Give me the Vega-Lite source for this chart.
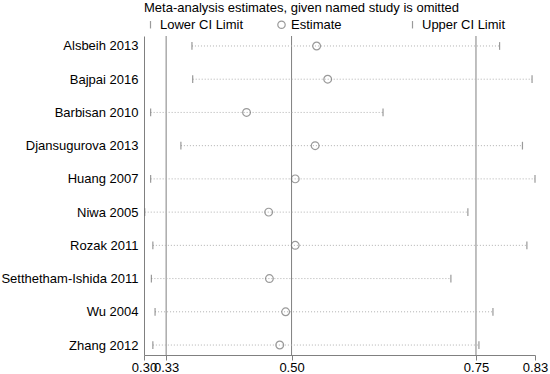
{
  "$schema": "https://vega.github.io/schema/vega-lite/v6.json",
  "width": 391,
  "height": 319,
  "padding": {"left": 0, "top": 2, "right": 10, "bottom": 0},
  "config": {
    "font": "Liberation Sans",
    "view": {"stroke": null},
    "axis": {"grid": false}
  },
  "data": {
    "values": [
      {"study": "Alsbeih 2013", "Lower CI Limit": 0.365, "Estimate": 0.534, "Upper CI Limit": 0.782},
      {"study": "Bajpai 2016", "Lower CI Limit": 0.366, "Estimate": 0.549, "Upper CI Limit": 0.826},
      {"study": "Barbisan 2010", "Lower CI Limit": 0.309, "Estimate": 0.439, "Upper CI Limit": 0.624},
      {"study": "Djansugurova 2013", "Lower CI Limit": 0.350, "Estimate": 0.532, "Upper CI Limit": 0.813},
      {"study": "Huang 2007", "Lower CI Limit": 0.309, "Estimate": 0.505, "Upper CI Limit": 0.830},
      {"study": "Niwa 2005", "Lower CI Limit": 0.301, "Estimate": 0.469, "Upper CI Limit": 0.739},
      {"study": "Rozak 2011", "Lower CI Limit": 0.312, "Estimate": 0.505, "Upper CI Limit": 0.819},
      {"study": "Setthetham-Ishida 2011", "Lower CI Limit": 0.310, "Estimate": 0.470, "Upper CI Limit": 0.716},
      {"study": "Wu 2004", "Lower CI Limit": 0.315, "Estimate": 0.492, "Upper CI Limit": 0.773},
      {"study": "Zhang 2012", "Lower CI Limit": 0.312, "Estimate": 0.484, "Upper CI Limit": 0.754}
    ]
  },
  "layer": [
    {
      "data": {"values": [{"v": 0.33}, {"v": 0.5}, {"v": 0.75}]},
      "mark": {"type": "rule", "color": "#808080", "strokeWidth": 1},
      "encoding": {
        "x": {"field": "v", "type": "quantitative", "scale": {"domain": [0.3, 0.83], "nice": false, "zero": false}}
      }
    },
    {
      "mark": {"type": "rule", "color": "#b0b0b0", "strokeWidth": 1, "strokeDash": [1, 2]},
      "encoding": {
        "y": {"field": "study", "type": "nominal", "sort": null, "scale": {"type": "point", "padding": 0.3},
              "axis": {"title": null, "ticks": false, "domain": true, "domainColor": "#808080", "labelPadding": 6, "labelFontSize": 13, "labelColor": "#000000"}},
        "x": {"field": "Lower CI Limit", "type": "quantitative", "scale": {"domain": [0.3, 0.83], "nice": false, "zero": false},
              "axis": {"title": null, "values": [0.3, 0.33, 0.5, 0.75, 0.83], "format": ".2f", "domainColor": "#808080", "tickColor": "#808080", "tickSize": 5, "labelPadding": 1, "labelFontSize": 13, "labelColor": "#000000", "labelOverlap": false, "labelFlush": false}},
        "x2": {"field": "Upper CI Limit"}
      }
    },
    {
      "transform": [{"fold": ["Lower CI Limit", "Estimate", "Upper CI Limit"], "as": ["key", "value"]}],
      "mark": {"type": "point", "filled": false, "color": "#707070", "strokeWidth": 1.2, "size": 60},
      "encoding": {
        "y": {"field": "study", "type": "nominal", "sort": null},
        "x": {"field": "value", "type": "quantitative", "scale": {"domain": [0.3, 0.83], "nice": false, "zero": false}},
        "shape": {
          "field": "key", "type": "nominal",
          "scale": {"domain": ["Lower CI Limit", "Estimate", "Upper CI Limit"], "range": ["M0,-1L0,1", "circle", "M0,-1L0,1"]},
          "legend": {
            "orient": "top", "direction": "horizontal",
            "title": "Meta-analysis estimates, given named study is omitted",
            "titleFontSize": 13, "titleFontWeight": "normal", "titleColor": "#000000", "titleLimit": 600,
            "labelFontSize": 13, "labelColor": "#000000",
            "gridAlign": "all", "columnPadding": 31,
            "symbolSize": 55, "symbolStrokeColor": "#707070", "symbolFillColor": "transparent", "symbolStrokeWidth": 1.2,
            "labelOffset": 3, "titlePadding": 3, "offset": 4
          }
        }
      }
    }
  ]
}
